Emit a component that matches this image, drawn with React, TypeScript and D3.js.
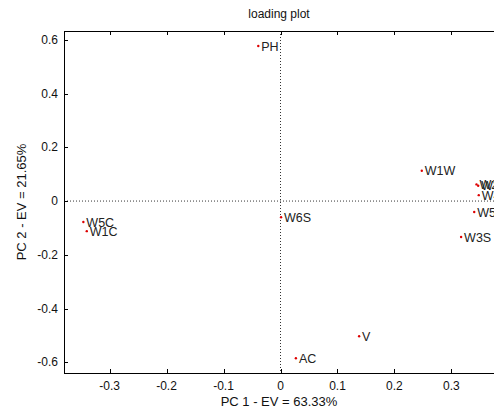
import React from "react";
import * as d3 from "d3";

const labels = ["PH", "W1W", "W2W", "W3W", "W4W", "W5S", "W3S", "W5C", "W1C", "W6S", "V", "AC"];
const pc1 = [-0.039, 0.248, 0.344, 0.347, 0.348, 0.340, 0.317, -0.346, -0.340, 0.001, 0.138, 0.027];
const pc2 = [0.577, 0.113, 0.062, 0.057, 0.022, -0.041, -0.134, -0.078, -0.112, -0.060, -0.503, -0.585];
const xTicks = [-0.3, -0.2, -0.1, 0, 0.1, 0.2, 0.3];
const yTicks = [-0.6, -0.4, -0.2, 0, 0.2, 0.4, 0.6];

const W = 494, H = 411;
const L = 64, R = 497, T = 31, B = 373;

export default function App() {
  const x = d3.scaleLinear().domain([-0.38, 0.38]).range([L, R]);
  const y = d3.scaleLinear().domain([-0.64, 0.633]).range([B, T]);
  const font = "Arial, 'Liberation Sans', sans-serif";
  const fmt = (v: number) => (v === 0 ? "0" : (v < 0 ? "-" : "") + Math.abs(v).toFixed(1));
  return (
    <div style={{ position: "fixed", left: 0, top: 0 }}>
      <svg width={W} height={H} style={{ display: "block", background: "#fff" }} fontFamily={font}>
        <rect x={0} y={0} width={W} height={H} fill="#fff" />
        <text x={279} y={18} textAnchor="middle" fontSize={12} fill="#111">loading plot</text>
        {/* zero lines */}
        <line x1={L} x2={R} y1={y(0)} y2={y(0)} stroke="#333" strokeWidth={1} strokeDasharray="1,2" />
        <line x1={x(0)} x2={x(0)} y1={T} y2={B} stroke="#333" strokeWidth={1} strokeDasharray="1,2" />
        {/* axes box */}
        <line x1={L} x2={R} y1={T + 0.5} y2={T + 0.5} stroke="#000" />
        <line x1={L} x2={R} y1={B + 0.5} y2={B + 0.5} stroke="#000" />
        <line x1={L + 0.5} x2={L + 0.5} y1={T} y2={B} stroke="#000" />
        {xTicks.map((t) => (
          <g key={"x" + t}>
            <line x1={Math.round(x(t)) + 0.5} x2={Math.round(x(t)) + 0.5} y1={B} y2={B - 4} stroke="#000" />
            <line x1={Math.round(x(t)) + 0.5} x2={Math.round(x(t)) + 0.5} y1={T} y2={T + 4} stroke="#000" />
            <text x={x(t)} y={390} textAnchor="middle" fontSize={12} fill="#111">{fmt(t)}</text>
          </g>
        ))}
        {yTicks.map((t) => (
          <g key={"y" + t}>
            <line x1={L} x2={L + 4} y1={Math.round(y(t)) + 0.5} y2={Math.round(y(t)) + 0.5} stroke="#000" />
            <text x={58} y={y(t) + 4} textAnchor="end" fontSize={12} fill="#111">{fmt(t)}</text>
          </g>
        ))}
        <text x={279} y={406} textAnchor="middle" fontSize={13} fill="#111">PC 1 - EV = 63.33%</text>
        <text transform={`translate(26,${(T + B) / 2}) rotate(-90)`} textAnchor="middle" fontSize={13} fill="#111">PC 2 - EV = 21.65%</text>
        {labels.map((lab, i) => (
          <g key={lab}>
            <circle cx={x(pc1[i])} cy={y(pc2[i])} r={1.2} fill="#d00" />
            <text x={x(pc1[i]) + 3} y={y(pc2[i]) + 4.5} fontSize={12.5} fill="#222">{lab}</text>
          </g>
        ))}
      </svg>
    </div>
  );
}
